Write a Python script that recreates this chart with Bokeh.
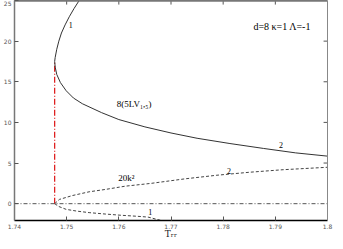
from bokeh.plotting import figure
from bokeh.models import Range1d, FixedTicker, LinearAxis, Label
from bokeh.embed import file_html
from bokeh.resources import INLINE

# ---- data ----
x_ticks = [1.74, 1.75, 1.76, 1.77, 1.78, 1.79, 1.80]
x_tick_labels = ["1.74", "1.75", "1.76", "1.77", "1.78", "1.79", "1.8"]
y_ticks = [0, 5, 10, 15, 20, 25]
y_tick_labels = ["0", "5", "10", "15", "20", "25"]

# solid branch "1" (upper) joined to branch "2" (8(5LV_{1,5}))
solid_x = [1.7524, 1.7514, 1.7505, 1.7497, 1.7490, 1.7485, 1.7481, 1.7478, 1.7477,
           1.7478, 1.7481, 1.7488, 1.7499, 1.7513, 1.7530, 1.7567, 1.7600, 1.7650,
           1.7700, 1.7750, 1.7813, 1.7877, 1.7939, 1.8000]
solid_y = [25.0, 24.0, 23.0, 22.0, 21.0, 20.0, 19.0, 18.0, 17.5,
           16.8, 15.9, 14.9, 13.9, 13.0, 12.3, 11.2, 10.35, 9.45,
           8.7, 8.05, 7.4, 6.8, 6.25, 5.85]

# dashed branch "2" (20k^2)
k2_x = [1.7477, 1.7486, 1.7511, 1.7543, 1.7574, 1.7612, 1.7662, 1.7726, 1.7788, 1.7851, 1.7915, 1.8000]
k2_y = [0.0, 0.52, 1.0, 1.46, 1.75, 2.15, 2.5, 3.05, 3.5, 3.87, 4.18, 4.48]

# dashed branch "1" (lower)
k1_x = [1.7477, 1.7485, 1.7499, 1.7520, 1.7543, 1.7575, 1.7605, 1.7635, 1.7656, 1.7680]
k1_y = [0.0, -0.35, -0.7, -0.92, -1.1, -1.28, -1.43, -1.55, -1.65, -2.05]

# vertical critical line and zero line
crit_x = [1.7477, 1.7477]
crit_y = [0.0, 17.5]
zero_x = [1.74, 1.80]
zero_y = [0.0, 0.0]

X0, X1 = 1.74, 1.80
Y0, Y1 = -2.07, 25.0

p = figure(width=335, height=241, output_backend="svg", toolbar_location=None,
           x_range=Range1d(X0, X1), y_range=Range1d(Y0, Y1),
           min_border_left=6, min_border_right=8, min_border_top=0, min_border_bottom=0)
p.outline_line_color = None
p.xgrid.visible = False
p.ygrid.visible = False
p.background_fill_color = "white"

p.line(zero_x, zero_y, line_color="#555555", line_width=1, line_dash="4 2 1 2")
p.line(crit_x, crit_y, line_color="#dd1111", line_width=1.2, line_dash="6 2 1 2")
p.line(solid_x, solid_y, line_color="#333333", line_width=1)
p.line(k2_x, k2_y, line_color="#444444", line_width=1, line_dash="3 2")
p.line(k1_x, k1_y, line_color="#444444", line_width=1, line_dash="3 2")

tick_font = "DejaVu Sans"
lab_font = "Liberation Serif"

xo = {v: s for v, s in zip(x_ticks, x_tick_labels)}
yo = {v: s for v, s in zip(y_ticks, y_tick_labels)}

# bottom axis
ax = p.xaxis[0]
ax.ticker = FixedTicker(ticks=x_ticks)
ax.major_label_overrides = xo
ax.minor_tick_line_color = None
ax.major_tick_in = 4
ax.major_tick_out = 0
ax.axis_line_color = "black"
ax.axis_line_width = 1.5
ax.major_tick_line_color = "#555555"
ax.major_label_text_font = tick_font
ax.major_label_text_font_size = "6px"
ax.major_label_text_color = "#555555"
ax.major_label_standoff = 3
ax.axis_label = "Tᵣᵣ"
ax.axis_label_text_font = "DejaVu Serif"
ax.axis_label_text_font_style = "normal"
ax.axis_label_text_font_size = "9px"
ax.axis_label_standoff = -3
ax.axis_label_text_color = "#222222"

# left axis
ay = p.yaxis[0]
ay.ticker = FixedTicker(ticks=y_ticks)
ay.major_label_overrides = yo
ay.minor_tick_line_color = None
ay.major_tick_in = 4
ay.major_tick_out = 0
ay.axis_line_color = "#777777"
ay.axis_line_width = 1.5
ay.major_tick_line_color = "#555555"
ay.major_label_text_font = tick_font
ay.major_label_text_font_size = "6px"
ay.major_label_text_color = "#555555"
ay.major_label_standoff = 3

# top and right frame lines (no ticks, no labels)
top = LinearAxis(ticker=FixedTicker(ticks=[]), major_tick_in=0, major_tick_out=0,
                 major_label_standoff=0, minor_tick_line_color=None,
                 axis_line_color="#777777", axis_line_width=2.5)
p.add_layout(top, "above")
right = LinearAxis(ticker=FixedTicker(ticks=[]), major_tick_in=0, major_tick_out=0,
                   major_label_standoff=0, minor_tick_line_color=None,
                   axis_line_color="#888888", axis_line_width=1)
p.add_layout(right, "right")

# mirror ticks on top and right, drawn from the tick lists
tx = x_ticks[1:-1]
p.segment(x0=tx, y0=[Y1] * len(tx), x1=tx, y1=[Y1 - 0.5] * len(tx),
          line_color="#555555", line_width=1)
ty = y_ticks[1:-1]
p.segment(x0=[X1] * len(ty), y0=ty, x1=[X1 - 0.00075] * len(ty), y1=ty,
          line_color="#555555", line_width=1)

def lab(x, y, t, size="9px", align="center"):
    p.add_layout(Label(x=x, y=y, text=t, text_font=lab_font, text_font_size=size,
                       text_color="black", text_align=align, text_baseline="middle"))

lab(1.7508, 22.0, "1", "8px")
lab(1.7596, 12.3, "8(5LV₁,₅)", "9px", "left")
lab(1.7911, 7.2, "2", "8px")
lab(1.7811, 4.0, "2", "8px")
lab(1.7599, 3.1, "20k²", "9px", "left")
lab(1.7660, -1.0, "1", "8px")
lab(1.7858, 21.8, "d=8 κ=1  Λ=-1", "10px", "left")

open("out.html", "w").write(file_html(p, INLINE))
